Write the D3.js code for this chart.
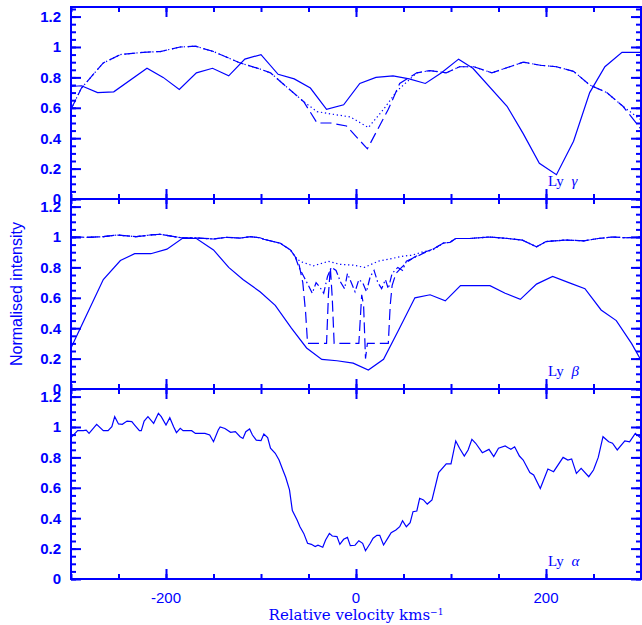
<!DOCTYPE html>
<html>
<head>
<meta charset="utf-8">
<script src="https://cdn.jsdelivr.net/npm/d3@7"></script>
<style>
  body { margin: 0; background: #fff; }
  svg { display: block; }
</style>
</head>
<body>
<svg id="chart" width="642" height="625"></svg>
<script>
// Three stacked Lyman-line profiles (Ly gamma, beta, alpha) against velocity.

// ---- data: [velocity km/s, normalised intensity] ----
const gammaObs = [[-300,0.74],[-289,0.745],[-272,0.70],[-255,0.705],[-220,0.86],[-203,0.80],[-186,0.72],
  [-168,0.83],[-151,0.86],[-134,0.81],[-117,0.92],[-100,0.95],[-82,0.82],[-65,0.79],[-48,0.73],[-31,0.59],
  [-13,0.62],[4,0.76],[21,0.80],[39,0.81],[56,0.79],[73,0.76],[90,0.83],[108,0.92],[123,0.86],[159,0.61],
  [176,0.43],[193,0.235],[211,0.16],[229,0.38],[246,0.70],[262,0.87],[280,0.965],[300,0.965]];
const gammaWingBlue = [[-300,0.59],[-289,0.73],[-266,0.895],[-248,0.95],[-224,0.965],[-206,0.97],[-185,1.0],
  [-169,1.005],[-150,0.97],[-122,0.895],[-101,0.855],[-90,0.83],[-68,0.71],[-55,0.64]];
const gammaWingRed = [[64,0.83],[78,0.845],[95,0.83],[109,0.87],[124,0.87],[143,0.83],[176,0.90],[194,0.88],
  [211,0.87],[229,0.84],[246,0.75],[264,0.70],[281,0.61]];
const gammaDottedCore = [[-41,0.575],[-27,0.56],[-6,0.54],[13,0.47],[29,0.59],[43,0.71]];
const gammaDashedCore = [[-41,0.50],[-27,0.50],[-10,0.48],[12,0.33],[34,0.59],[46,0.76]];
const gammaDottedEnd = [[300,0.52]];
const gammaDashedEnd = [[300,0.46]];

const betaObs = [[-300,0.27],[-266,0.72],[-248,0.845],[-233,0.89],[-216,0.89],[-199,0.92],[-183,0.99],
  [-168,0.99],[-150,0.915],[-134,0.80],[-119,0.72],[-101,0.64],[-85,0.55],[-68,0.40],[-52,0.27],[-36,0.195],
  [-20,0.186],[-3,0.17],[13,0.125],[29,0.195],[45,0.39],[62,0.60],[78,0.62],[94,0.58],[110,0.68],[141,0.68],
  [157,0.63],[173,0.59],[190,0.69],[207,0.74],[224,0.70],[241,0.66],[258,0.52],[274,0.45],[290,0.30],[300,0.19]];
const betaWingBlue = [[-300,1.0],[-283,0.998],[-266,1.002],[-252,1.013],[-231,1.002],[-217,1.013],[-206,1.018],
  [-196,1.007],[-184,0.995],[-171,0.995],[-150,0.987],[-136,0.998],[-122,0.993],[-111,1.002],[-101,0.995],
  [-97,0.985],[-80,0.96],[-69,0.915],[-64,0.87]];
const betaWingRed = [[92,0.96],[99,0.965],[105,0.99],[120,0.99],[140,1.0],[160,0.99],[175,0.98],[190,0.935],
  [200,0.97],[220,0.98],[240,0.975],[255,0.99],[270,1.0],[285,0.995],[300,1.0]];
const betaDottedCore = [[-59,0.84],[-45,0.81],[-29,0.84],[-17,0.82],[-3,0.815],[9,0.80],[23,0.84],[39,0.86],
  [50,0.875],[59,0.88],[69,0.90],[81,0.915]];
const betaDashDotCore = [[-60,0.80],[-55,0.74],[-50,0.68],[-46,0.63],[-42,0.70],[-38,0.67],[-34,0.63],[-30,0.74],
  [-26,0.80],[-21,0.78],[-16,0.70],[-12,0.66],[-9,0.76],[-5,0.70],[-1,0.64],[3,0.72],[7,0.70],[11,0.64],
  [15,0.74],[19,0.78],[23,0.70],[27,0.66],[31,0.72],[34,0.66],[38,0.76],[44,0.80],[49,0.78],[53,0.84],
  [60,0.86],[70,0.89],[81,0.92]];
const betaDashedCore = [[-60,0.82],[-56,0.70],[-53,0.50],[-51,0.30],[-31,0.30],[-29,0.62],[-27,0.80],[-25,0.60],
  [-23,0.30],[3,0.30],[6,0.62],[8,0.55],[10,0.20],[12,0.30],[34,0.30],[36,0.55],[38,0.68],[42,0.76],
  [48,0.80],[55,0.84],[62,0.87],[72,0.90],[81,0.92]];

const alphaObs = [[-300,0.93],[-293,0.976],[-287,0.976],[-284,0.98],[-281,0.958],[-273,1.018],[-266,0.976],
  [-261,0.976],[-257,1.002],[-254,1.068],[-250,1.02],[-246,1.018],[-241,1.039],[-236,1.035],[-233,1.013],
  [-228,0.976],[-226,0.976],[-223,1.039],[-219,1.068],[-213,1.024],[-208,1.09],[-205,1.068],[-200,1.013],
  [-196,1.061],[-192,1.002],[-189,0.963],[-185,0.991],[-182,0.976],[-176,0.976],[-173,0.976],[-169,0.958],
  [-164,0.958],[-159,0.958],[-154,0.947],[-150,0.903],[-145,0.98],[-143,1.0],[-138,0.99],[-132,0.965],
  [-127,0.97],[-122,0.936],[-119,0.925],[-116,0.969],[-112,0.987],[-109,0.947],[-105,0.914],[-100,0.910],
  [-97,0.954],[-93,0.930],[-90,0.860],[-85,0.827],[-81,0.783],[-77,0.717],[-74,0.669],[-70,0.586],
  [-67,0.450],[-62,0.388],[-59,0.344],[-55,0.300],[-51,0.235],[-47,0.228],[-43,0.213],[-40,0.222],
  [-35,0.209],[-32,0.257],[-28,0.300],[-25,0.283],[-20,0.279],[-17,0.228],[-13,0.261],[-9,0.274],
  [-6,0.219],[-1,0.222],[3,0.252],[7,0.235],[10,0.186],[15,0.235],[18,0.268],[22,0.287],[25,0.287],
  [29,0.224],[34,0.274],[37,0.305],[42,0.322],[46,0.344],[49,0.384],[53,0.344],[57,0.371],[60,0.443],
  [64,0.447],[67,0.531],[71,0.520],[75,0.493],[80,0.520],[87,0.700],[95,0.757],[100,0.757],[105,0.908],
  [109,0.860],[114,0.809],[118,0.849],[122,0.919],[126,0.893],[133,0.831],[140,0.853],[145,0.805],
  [150,0.860],[157,0.875],[163,0.853],[167,0.870],[172,0.809],[176,0.783],[183,0.700],[187,0.684],
  [194,0.596],[202,0.724],[208,0.706],[218,0.800],[223,0.783],[227,0.790],[232,0.695],[237,0.728],
  [245,0.673],[250,0.717],[255,0.800],[260,0.936],[266,0.903],[270,0.893],[275,0.849],[283,0.908],
  [288,0.903],[294,0.958],[300,0.925]];

const xTickLabels = [-200, 0, 200];
const yTickLabels = [0, 0.2, 0.4, 0.6, 0.8, 1, 1.2];

// ---- layout ----
const BLUE = "#0000ff";
const X_LEFT = 71, X_RIGHT = 641;
const DASH = { solid: null, dotted: "1.3,2.7", dashed: "11,5", dashdot: "8,3,1.5,3" };

const panels = [
  { top: 7, bottom: 199, ymax: 1.263, greek: "γ", series: [
      { style: "solid", data: gammaObs },
      { style: "dotted", data: [...gammaWingBlue, ...gammaDottedCore, ...gammaWingRed, ...gammaDottedEnd] },
      { style: "dashed", data: [...gammaWingBlue, ...gammaDashedCore, ...gammaWingRed, ...gammaDashedEnd] }
  ]},
  { top: 199, bottom: 389, ymax: 1.25, greek: "β", series: [
      { style: "solid", data: betaObs },
      { style: "dotted", data: [...betaWingBlue, ...betaDottedCore, ...betaWingRed] },
      { style: "dashdot", data: [...betaWingBlue, ...betaDashDotCore, ...betaWingRed] },
      { style: "dashed", data: [...betaWingBlue, ...betaDashedCore, ...betaWingRed] }
  ]},
  { top: 389, bottom: 579, ymax: 1.25, greek: "α", series: [
      { style: "solid", data: alphaObs }
  ]}
];

const svg = d3.select("#chart");
const x = d3.scaleLinear().domain([-300, 300]).range([X_LEFT, X_RIGHT]);

const xMinor = d3.range(-300, 301, 50);
const xMajor = [-200, 0, 200];
const yMinor = d3.range(0, 1.26, 0.05);

function styleAxis(g) {
  g.select(".domain").remove();
  g.selectAll(".tick line").attr("stroke", BLUE).attr("stroke-width", 2);
  g.selectAll(".tick text").remove();
}

panels.forEach((p, i) => {
  const y = d3.scaleLinear().domain([0, p.ymax]).range([p.bottom, p.top]);

  const clipId = `clip-${i}`;
  svg.append("clipPath").attr("id", clipId)
    .append("rect").attr("x", X_LEFT).attr("y", p.top)
    .attr("width", X_RIGHT - X_LEFT).attr("height", p.bottom - p.top);

  const line = d3.line().x(d => x(d[0])).y(d => y(d[1]));
  const g = svg.append("g").attr("clip-path", `url(#${clipId})`);
  g.selectAll("path")
    .data(p.series)
    .join("path")
      .attr("d", d => line(d.data))
      .attr("fill", "none")
      .attr("stroke", BLUE)
      .attr("stroke-width", 1.2)
      .attr("stroke-dasharray", d => DASH[d.style]);

  // inward ticks on all four sides, minor then major
  [[xMinor, 5], [xMajor, 10]].forEach(([vals, len]) => {
    svg.append("g").attr("transform", `translate(0,${p.bottom})`)
      .call(d3.axisTop(x).tickValues(vals).tickSize(len)).call(styleAxis);
    svg.append("g").attr("transform", `translate(0,${p.top})`)
      .call(d3.axisBottom(x).tickValues(vals).tickSize(len)).call(styleAxis);
  });
  [[yMinor, 5], [yTickLabels, 10]].forEach(([vals, len]) => {
    svg.append("g").attr("transform", `translate(${X_LEFT},0)`)
      .call(d3.axisRight(y).tickValues(vals).tickSize(len)).call(styleAxis);
    svg.append("g").attr("transform", `translate(${X_RIGHT},0)`)
      .call(d3.axisLeft(y).tickValues(vals).tickSize(len)).call(styleAxis);
  });

  // y tick labels (the 1.2 / 0 pair collides at panel joins, as in the original)
  svg.append("g").selectAll("text")
    .data(yTickLabels)
    .join("text")
      .attr("x", 61)
      .attr("y", d => y(d))
      .attr("dy", "0.36em")
      .attr("text-anchor", "end")
      .attr("fill", BLUE)
      .style("font", "bold 15px 'Liberation Sans', Arial, sans-serif")
      .text(d => String(d));

  // line name
  const t = svg.append("text")
    .attr("x", 548).attr("y", p.bottom - 13)
    .attr("fill", BLUE)
    .style("font", "15px 'Liberation Serif', 'Times New Roman', serif");
  t.append("tspan").text("Ly ");
  t.append("tspan").attr("font-style", "italic").attr("dx", 4).text(p.greek);

  // frame
  svg.append("rect")
    .attr("x", X_LEFT).attr("y", p.top)
    .attr("width", X_RIGHT - X_LEFT).attr("height", p.bottom - p.top)
    .attr("fill", "none").attr("stroke", BLUE).attr("stroke-width", 2);
});

// x tick labels under the bottom panel
svg.append("g").selectAll("text")
  .data(xTickLabels)
  .join("text")
    .attr("x", d => x(d))
    .attr("y", 603)
    .attr("text-anchor", "middle")
    .attr("fill", BLUE)
    .style("font", "15px 'Liberation Sans', Arial, sans-serif")
    .text(d => String(d));

const xTitle = svg.append("text")
  .attr("x", 356).attr("y", 620)
  .attr("text-anchor", "middle")
  .attr("fill", BLUE)
  .style("font", "15px 'DejaVu Serif', serif");
xTitle.append("tspan").text("Relative velocity kms");
xTitle.append("tspan").attr("dy", -5).style("font-size", "9px").text("−1");

svg.append("text")
  .attr("transform", "translate(22,294) rotate(-90)")
  .attr("text-anchor", "middle")
  .attr("fill", BLUE)
  .style("font", "16px 'Liberation Sans', Arial, sans-serif")
  .text("Normalised intensity");
</script>
</body>
</html>
